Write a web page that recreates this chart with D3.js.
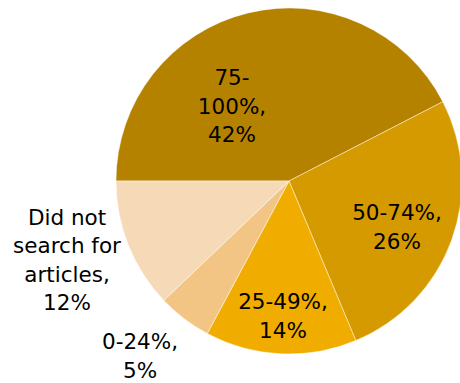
<!DOCTYPE html>
<html>
<head>
<meta charset="utf-8">
<script src="https://cdn.jsdelivr.net/npm/d3@7"></script>
<style>
  html, body { margin: 0; padding: 0; background: #ffffff; }
  svg { display: block; }
  text { font-family: "DejaVu Sans", Lato, sans-serif; fill: #000; }
</style>
</head>
<body>
<svg id="chart" width="460" height="383"></svg>
<script>
// Share of articles searched
const categories = ["75-100%", "50-74%", "25-49%", "0-24%", "Did not search for articles"];
const values = [42, 26, 14, 5, 12];
const labelLines = [
  ["75-", "100%,", "42%"],
  ["50-74%,", "26%"],
  ["25-49%,", "14%"],
  ["0-24%,", "5%"],
  ["Did not", "search for", "articles,", "12%"]
];
const colors = ["#B58200", "#D59A00", "#F0AD00", "#F2C585", "#F6D9B7"];

const width = 460, height = 383;
const cx = 289, cy = 181, radius = 173;

// label centre for each slice (pixels relative to the pie centre)
const labelOffsets = [[-57, -75], [108, 46], [-6, 135], [-149, 175], [-222, 79]];

const svg = d3.select("#chart");
const g = svg.append("g").attr("transform", `translate(${cx},${cy})`);

const pie = d3.pie()
  .sort(null)
  .value(d => d.value)
  .startAngle(-Math.PI / 2)
  .endAngle(1.5 * Math.PI);

const data = categories.map((c, i) => ({ category: c, value: values[i], lines: labelLines[i], idx: i }));
const arcs = pie(data);

const color = d3.scaleOrdinal().domain(categories).range(colors);
const arc = d3.arc().innerRadius(0).outerRadius(radius);

g.selectAll("path.slice")
  .data(arcs)
  .join("path")
  .attr("class", "slice")
  .attr("d", arc)
  .attr("fill", d => color(d.data.category))
  .attr("stroke", "#ffffff")
  .attr("stroke-opacity", 0.6)
  .attr("stroke-width", 0.75);

const lineH = 28.5;
const labels = g.selectAll("text.lbl")
  .data(arcs)
  .join("text")
  .attr("class", "lbl")
  .attr("text-anchor", "middle")
  .attr("font-size", 21.5);

labels.each(function(d) {
  const t = d3.select(this);
  const [ox, oy] = labelOffsets[d.data.idx];
  const n = d.data.lines.length;
  d.data.lines.forEach((ln, k) => {
    t.append("tspan")
      .attr("x", ox)
      .attr("y", oy + (k - (n - 1) / 2) * lineH)
      .attr("dy", "0.36em")
      .text(ln);
  });
});
</script>
</body>
</html>
